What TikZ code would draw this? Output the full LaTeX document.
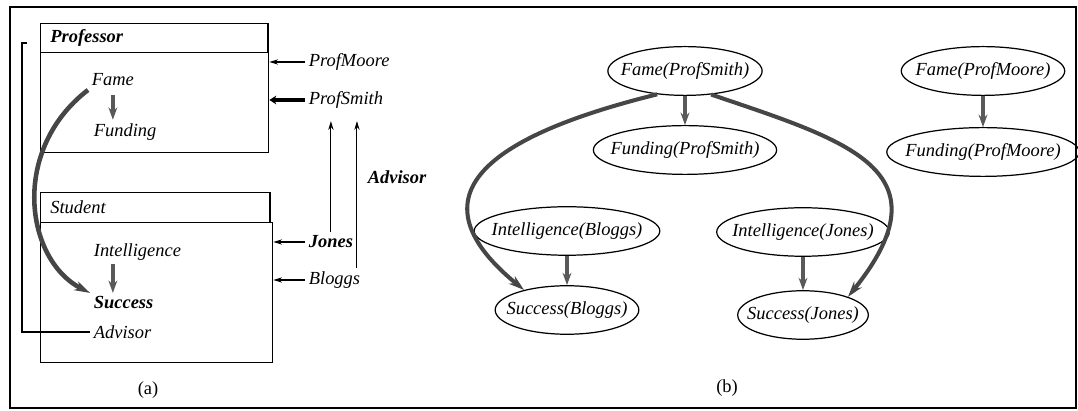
\documentclass[tikz,border=0pt]{standalone}
\usepackage{fontspec}
\setmainfont{Liberation Serif}
\usepackage{tikz}
\usetikzlibrary{arrows.meta, shapes.geometric}

\begin{document}
\begin{tikzpicture}[
    x=0.02cm, y=-0.02cm,
    font=\fontsize{10.5}{12}\selectfont,
    frame/.style={draw, line width=0.9pt},
    hdr/.style={rectangle, draw, line width=0.8pt, anchor=north west, inner xsep=5.5pt, align=left, font=\fontsize{10.5}{12}\selectfont\itshape},
    body/.style={rectangle, draw, line width=0.8pt, anchor=north west},
    attr/.style={anchor=west, inner sep=2pt, font=\fontsize{10.5}{12}\selectfont\itshape},
    inst/.style={anchor=west, inner sep=2pt, font=\fontsize{10.5}{12}\selectfont\itshape},
    var/.style={ellipse, draw, line width=0.7pt, inner xsep=-5.5pt, inner ysep=5pt, font=\fontsize{10.5}{12}\selectfont\itshape},
    dep/.style={-{Stealth[length=7pt,width=5pt]}, line width=1.8pt, gray!70!black},
    bigdep/.style={-{Stealth[length=9pt,width=5.5pt]}, line width=2.3pt, gray!55!black},
    ref/.style={-{Stealth[length=5pt,width=3pt]}, line width=0.6pt}
]
\useasboundingbox (0,0) rectangle (1078,411);
\draw[frame] (10,7) rectangle (1076,408);

% (a) class level
\node[hdr, text width=118.3pt, minimum height=0.58cm] (profhdr) at (40,23) {\textbf{Professor}};
\node[body, minimum width=4.56cm, minimum height=2cm] (profbody) at (40,52) {};
\node[hdr, text width=119.4pt, minimum height=0.6cm] (studhdr) at (40,192) {Student};
\node[body, minimum width=4.64cm, minimum height=2.8cm] (studbody) at (40,222) {};

\node[attr] (fame) at (88,80) {Fame};
\node[attr] (funding) at (90,132) {Funding};
\node[attr] (intel) at (90,252) {Intelligence};
\node[attr] (success) at (90,303) {\textbf{Success}};
\node[attr] (advisor) at (90,332) {Advisor};
\coordinate (advtop) at (22,43);

\draw[dep, line width=2pt, shorten <=3pt] (fame.south) -- (fame.south |- funding.north);
\draw[dep, line width=2pt] (intel.south -| fame.south) -- (success.north -| fame.south);
\draw[bigdep, line width=2.6pt] (fame.south west) .. controls (10,150) and (25,260) .. (success.north west);
\draw[line width=0.8pt] ([xshift=3pt]advtop) -- (advtop) |- (advisor.west);

% objects
\node[inst] (moore) at (305,62) {ProfMoore};
\node[inst] (smith) at (305,100) {ProfSmith};
\node[inst] (jones) at (305,242) {\textbf{Jones}};
\node[inst] (bloggs) at (305,280) {Bloggs};
\node[inst] (advlabel) at (364,177) {\textbf{Advisor}};

\draw[ref] (moore.west) -- (moore.west -| profbody.east);
\draw[-{Stealth[length=4pt,width=5pt]}, line width=2.6pt] (smith.west) -- (smith.west -| profbody.east);
\draw[ref] (jones.west) -- (jones.west -| studbody.east);
\draw[ref] (bloggs.west) -- (bloggs.west -| studbody.east);
\draw[ref, shorten >=5pt] (jones.north) -- (jones.north |- smith.south);
\draw[ref, shorten >=5pt] ([xshift=-4pt]bloggs.north east) -- ([xshift=-4pt]bloggs.north east |- smith.south);

\node (capa) at (148,390) {(a)};

% (b) ground network
\node[var] (famesmith) at (685,71) {Fame(ProfSmith)};
\node[var] (fundsmith) at (685,150) {Funding(ProfSmith)};
\node[var] (famemoore) at (983,71) {Fame(ProfMoore)};
\node[var] (fundmoore) at (983,152) {Funding(ProfMoore)};
\node[var] (intbloggs) at (567,231) {Intelligence(Bloggs)};
\node[var] (sucbloggs) at (567,310) {Success(Bloggs)};
\node[var] (intjones) at (803,232) {Intelligence(Jones)};
\node[var] (sucjones) at (803,315) {Success(Jones)};

\draw[dep] (famesmith) -- (fundsmith);
\draw[dep] (famemoore) -- (fundmoore);
\draw[dep] (intbloggs) -- (sucbloggs);
\draw[dep] (intjones) -- (sucjones);
\draw[bigdep] (famesmith.220) .. controls (476,139) and (414,200) .. (sucbloggs.155);
\draw[bigdep] (famesmith.318) .. controls (848,141) and (950,170) .. (sucjones.22);

\node (capb) at (727,388) {(b)};
\end{tikzpicture}
\end{document}
